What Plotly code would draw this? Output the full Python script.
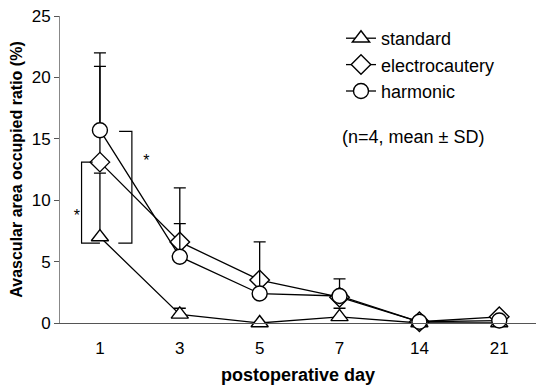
import plotly.graph_objects as go

days = ["1", "3", "5", "7", "14", "21"]
standard = [7.0, 0.7, 0.0, 0.5, 0.0, 0.0]
standard_sd = [5.2, 0.5, 0.0, 0.7, 0.0, 0.0]
electro = [13.1, 6.6, 3.5, 2.1, 0.1, 0.5]
electro_sd = [7.8, 1.5, 0.0, 0.0, 0.0, 0.0]
harmonic = [15.7, 5.4, 2.4, 2.2, 0.1, 0.2]
harmonic_sd = [6.3, 5.6, 4.2, 1.4, 0.0, 0.0]

# significance brackets (x in category-index units, y in %)
bracket_left = dict(x=[-0.09, -0.23, -0.23, 0.0], y=[13.1, 13.1, 6.5, 6.5])
bracket_right = dict(x=[0.24, 0.40, 0.40, 0.23], y=[15.6, 15.6, 6.5, 6.5])
stars = dict(x=[-0.29, 0.58], y=[8.6, 13.1])

FONT = "Liberation Sans, Arial, sans-serif"

fig = go.Figure()

def add_series(name, y, sd, symbol):
    fig.add_trace(go.Scatter(
        x=list(range(len(days))), y=y, name=name, mode="lines+markers",
        line=dict(color="black", width=1.3),
        marker=dict(symbol=symbol, size=15, color="white",
                    line=dict(color="black", width=1.4)),
        error_y=dict(type="data", array=sd, arrayminus=[0] * len(sd),
                     symmetric=False, color="black", thickness=1.3, width=6),
        cliponaxis=False,
    ))

add_series("standard", standard, standard_sd, "triangle-up")
add_series("electrocautery", electro, electro_sd, "diamond")
add_series("harmonic", harmonic, harmonic_sd, "circle")

for br in (bracket_left, bracket_right):
    fig.add_trace(go.Scatter(x=br["x"], y=br["y"], mode="lines",
                             line=dict(color="black", width=1.2),
                             showlegend=False, hoverinfo="skip", cliponaxis=False))

fig.add_trace(go.Scatter(x=stars["x"], y=stars["y"], mode="text", text=["*", "*"],
                         textfont=dict(size=16, family=FONT, color="black"),
                         showlegend=False, hoverinfo="skip", cliponaxis=False))

fig.add_annotation(text="(n=4, mean ± SD)", xref="paper", yref="paper",
                   x=(340 - 60) / 476, y=(323 - 137) / 307, xanchor="left",
                   yanchor="middle", showarrow=False,
                   font=dict(size=18, family=FONT, color="black"))

fig.update_layout(
    width=536, height=389,
    margin=dict(l=60, r=0, t=16, b=66),
    paper_bgcolor="white", plot_bgcolor="white",
    font=dict(family=FONT, size=16, color="black"),
    legend=dict(x=(341 - 60) / 476, y=(323 - 20) / 307, xanchor="left", yanchor="top",
                font=dict(size=18, family=FONT), bgcolor="rgba(0,0,0,0)",
                itemwidth=30, tracegroupgap=0),
)

fig.update_xaxes(
    range=[-0.5, 5.46], tickmode="array", tickvals=list(range(len(days))),
    ticktext=days, showgrid=False, zeroline=False, showline=True,
    linecolor="#555", linewidth=1, ticks="", ticklabelstandoff=10,
    tickfont=dict(size=17, family=FONT),
    title=dict(text="<b>postoperative day</b>", font=dict(size=18, family=FONT), standoff=10),
)
fig.update_yaxes(
    range=[0, 25], tickvals=[0, 5, 10, 15, 20, 25], showgrid=False, zeroline=False,
    showline=True, linecolor="#888", linewidth=1, ticks="outside", ticklen=5,
    tickcolor="#555", tickfont=dict(size=17, family=FONT),
    title=dict(text="<b>Avascular area occupied ratio (%)</b>",
               font=dict(size=16, family=FONT), standoff=5),
)

fig.write_html("out.html", config={"displayModeBar": False},
               post_script="document.body.style.margin='0';")
